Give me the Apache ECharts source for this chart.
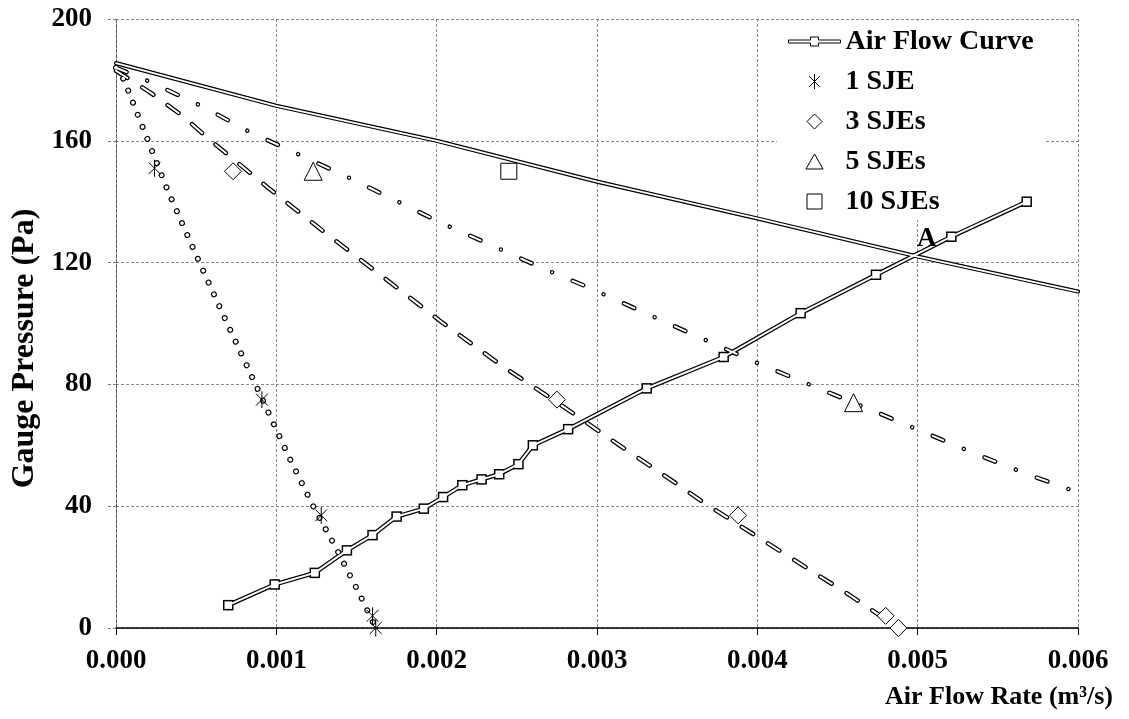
<!DOCTYPE html>
<html>
<head>
<meta charset="utf-8">
<script src="https://cdn.jsdelivr.net/npm/echarts@6/dist/echarts.min.js"></script>
<style>
  html, body { margin: 0; padding: 0; background: #fff; }
  #chart { width: 1129px; height: 719px; }
</style>
</head>
<body>
<div id="chart"></div>
<script>
// Fan performance lines for 1, 3, 5 and 10 SJEs against the duct system curve.
// Each entry is [air flow rate (m^3/s), gauge pressure (Pa)].

// System (air flow) curve with its measured points
const airFlowCurve = [
  [0.00070, 7.5], [0.00099, 14.3], [0.00124, 18.1], [0.00144, 25.5], [0.00160, 30.5],
  [0.00175, 36.6], [0.00192, 39.2], [0.00204, 43.0], [0.00216, 46.9], [0.00228, 48.8],
  [0.00239, 50.5], [0.00251, 53.8], [0.00260, 60.0], [0.00282, 65.3], [0.00331, 78.7],
  [0.00379, 89.0], [0.00427, 103.4], [0.00474, 116.0], [0.00521, 128.5], [0.00568, 140.0]
];

// Fitted fan curves
const fit1 = [
  [0, 184], [0.00005, 180], [0.00017, 164], [0.00032, 144], [0.00047, 126],
  [0.00065, 105], [0.00087, 80], [0.00108, 56], [0.00123, 40], [0.00138, 25.5],
  [0.00152, 11], [0.00162, 0]
];
const fit3 = [
  [0, 183], [0.00021, 176], [0.00042, 168], [0.00057, 161], [0.00095, 144.5],
  [0.00130, 130], [0.00166, 115.5], [0.00203, 100.5], [0.00241, 86], [0.00274, 74.5],
  [0.00314, 60], [0.00349, 47.6], [0.00367, 41], [0.00403, 29], [0.00439, 17],
  [0.00457, 11], [0.00488, 0]
];
const fit5 = [
  [0, 184], [0.00021, 179.4], [0.00055, 171], [0.00083, 163], [0.00112, 156],
  [0.00146, 147.7], [0.00174, 140.5], [0.00203, 133], [0.00235, 125.5], [0.00264, 118.6],
  [0.00294, 112], [0.00326, 104.4], [0.00356, 97.3], [0.00400, 87], [0.00447, 76.8],
  [0.00476, 70.5], [0.00507, 63.6], [0.00537, 57], [0.00567, 50.8], [0.00600, 44.5]
];
const fit10 = [
  [0, 185.5], [0.001, 171.5], [0.002, 160], [0.003, 146.6], [0.004, 134.5],
  [0.005, 122], [0.006, 110.5]
];

// Measured fan points
const pts1 = [[0.00024, 151], [0.00091, 75], [0.00128, 37], [0.00160, 4], [0.00162, 0]];
const pts3 = [[0.00073, 150], [0.00275, 75], [0.00388, 37], [0.00480, 4], [0.00488, 0]];
const pts5 = [[0.00123, 150], [0.00460, 74]];
const pts10 = [[0.00245, 150]];

// Operating point label
const operatingPoint = [[0.005, 122]];

const legendNames = ['Air Flow Curve', '1 SJE', '3 SJEs', '5 SJEs', '10 SJEs'];

const FONT = 'Liberation Serif';
const ASTERISK = 'path://M10,0L10,20M3,3L17,17M3,17L17,3';
const DIAMOND = 'path://M8,0L16,8L8,16L0,8Z';
const TRIANGLE = 'path://M8,0L16,14L0,14Z';
const SQUARE = 'path://M0,0L14,0L14,14L0,14Z';
const PIPE_ICON = 'path://M0,3L22,3L22,0L30,0L30,3L52,3L52,6L30,6L30,9L22,9L22,6L0,6Z';

const hollow = { color: '#fff', borderColor: '#000', borderWidth: 1, opacity: 1 };

// Outlined ("hollow") line: a wide black stroke with a narrower white stroke on top
function outlined(name, data, outer, inner, dash, extra) {
  const common = {
    type: 'line', name: name, data: data, symbol: 'none', silent: true,
    animation: false
  };
  return [
    Object.assign({}, common, {
      z: 2,
      lineStyle: { color: '#000', width: outer, type: dash || 'solid', cap: 'round', join: 'round' }
    }, extra ? extra.outer : {}),
    Object.assign({}, common, {
      z: 3,
      lineStyle: { color: '#fff', width: inner, type: dash || 'solid', cap: 'round', join: 'round' }
    }, extra ? extra.inner : {})
  ];
}

const dotted = [0.01, 13];
const dashed = [13.5, 17.5];
const dashDot = [11.5, 22.25, 0.01, 22.25];

const series = [].concat(
  outlined('1 SJE', fit1, 6, 3.6, dotted),
  outlined('3 SJEs', fit3, 4.5, 2, dashed),
  outlined('5 SJEs', fit5, 4.5, 2, dashDot),
  outlined('10 SJEs', fit10, 4.2, 1.8, null),
  outlined('Air Flow Curve', airFlowCurve, 4.5, 2, null, {
    outer: { symbol: 'rect', symbolSize: 10.5, showSymbol: true, itemStyle: { color: '#000' } },
    inner: { symbol: 'rect', symbolSize: 7.5, showSymbol: true, itemStyle: { color: '#fff' } }
  }),
  [
    { type: 'scatter', name: '1 SJE', data: pts1, symbol: ASTERISK, symbolSize: 17,
      symbolKeepAspect: true, itemStyle: hollow, z: 5 },
    { type: 'scatter', name: '3 SJEs', data: pts3, symbol: 'diamond', symbolSize: 17,
      itemStyle: hollow, z: 5 },
    { type: 'scatter', name: '5 SJEs', data: pts5, symbol: 'triangle', symbolSize: 18,
      itemStyle: hollow, z: 5 },
    { type: 'scatter', name: '10 SJEs', data: pts10, symbol: 'rect', symbolSize: 16,
      itemStyle: hollow, z: 5 },
    { type: 'scatter', name: 'A', data: operatingPoint, symbolSize: 0, z: 6,
      itemStyle: { opacity: 1 },
      label: { show: true, formatter: 'A', position: 'top', distance: 4, offset: [9, 0],
               fontFamily: FONT, fontWeight: 'bold', fontSize: 27, color: '#000' } }
  ]
);

const legendIcons = {
  'Air Flow Curve': PIPE_ICON, '1 SJE': ASTERISK, '3 SJEs': DIAMOND,
  '5 SJEs': TRIANGLE, '10 SJEs': SQUARE
};

const option = {
  animation: false,
  backgroundColor: '#fff',
  grid: { left: 116, right: 51, top: 19, bottom: 91, containLabel: false },
  legend: {
    orient: 'vertical', left: 777, top: 21, z: 1,
    backgroundColor: '#fff',
    padding: [6, 12, 4, 11],
    itemWidth: 52, itemHeight: 15, itemGap: 11,
    selectedMode: false,
    textStyle: { fontFamily: FONT, fontWeight: 'bold', fontSize: 28, color: '#000', lineHeight: 29 },
    data: legendNames.map(n => ({
      name: n, icon: legendIcons[n],
      itemStyle: { color: '#fff', borderColor: '#000', borderWidth: 1 }
    }))
  },
  xAxis: {
    type: 'value', min: 0, max: 0.006, interval: 0.001,
    name: 'Air Flow Rate (m³/s)', nameLocation: 'end', nameGap: 35,
    nameTextStyle: { fontFamily: FONT, fontWeight: 'bold', fontSize: 26, color: '#000',
                     align: 'right', verticalAlign: 'top', padding: [56, 0, 0, 0] },
    axisLine: { show: true, lineStyle: { color: '#000', width: 1.5 } },
    axisTick: { show: true, length: 7, lineStyle: { color: '#000' } },
    axisLabel: { margin: 20, fontFamily: FONT, fontWeight: 'bold', fontSize: 27, color: '#000',
                 formatter: v => v.toFixed(3) },
    splitLine: { show: true, lineStyle: { color: '#8a8a8a', width: 1, type: [3, 2] } }
  },
  yAxis: {
    type: 'value', min: 0, max: 200, interval: 40,
    name: 'Gauge Pressure (Pa)', nameLocation: 'middle', nameGap: 75, nameRotate: 90,
    nameTextStyle: { fontFamily: FONT, fontWeight: 'bold', fontSize: 32, color: '#000',
                     padding: [0, 50, 0, 0] },
    axisLine: { show: true, lineStyle: { color: '#555', width: 1, type: [3, 2] } },
    axisTick: { show: true, length: 8, lineStyle: { color: '#777', type: [3, 2] } },
    axisLabel: { margin: 24, fontFamily: FONT, fontWeight: 'bold', fontSize: 27, color: '#000' },
    splitLine: { show: true, lineStyle: { color: '#8a8a8a', width: 1, type: [3, 2] } }
  },
  series: series
};

const chart = echarts.init(document.getElementById('chart'), null, { renderer: 'canvas' });
chart.setOption(option);
</script>
</body>
</html>
